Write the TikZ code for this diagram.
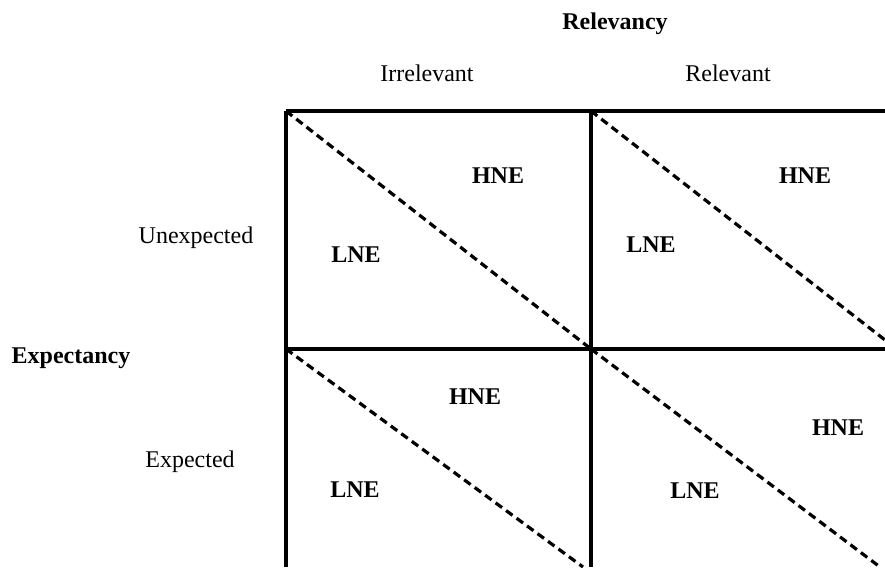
\documentclass[tikz,border=0pt]{standalone}
\usepackage{fontspec}
\setmainfont{Liberation Serif}

\begin{document}
\begin{tikzpicture}[
  x=1pt, y=-1pt,
  font=\fontsize{24}{28}\selectfont,
  axislabel/.style={anchor=base, inner sep=0pt},
  axistitle/.style={anchor=base, inner sep=0pt, font=\fontsize{24}{28}\selectfont\bfseries},
  zone/.style={anchor=base, inner sep=0pt, font=\fontsize{24}{28}\selectfont\bfseries},
  gridline/.style={line width=3.2pt},
  split/.style={line width=3.2pt, dash pattern=on 8pt off 5pt}
]
  \useasboundingbox (0,0) rectangle (885,567);

  % grid corners
  \coordinate (tl) at (286,111);
  \coordinate (tm) at (591,111);
  \coordinate (tr) at (885,111);
  \coordinate (ml) at (286,349);
  \coordinate (mm) at (591,349);
  \coordinate (mr) at (885,349);
  \coordinate (bl) at (286,567);
  \coordinate (bm) at (591,567);
  \coordinate (endtr) at (885,340);
  \coordinate (endbl) at (583,567);
  \coordinate (endbr) at (880,567);

  \draw[gridline] (tl) -- (tr);
  \draw[gridline] (ml) -- (mr);
  \draw[gridline] (tl) -- (bl);
  \draw[gridline] (tm) -- (bm);

  \draw[split] (tl) -- (mm);
  \draw[split] (tm) -- (endtr);
  \draw[split] (ml) -- (endbl);
  \draw[split] (mm) -- (endbr);

  % headings
  \node[axistitle] (relevancy) at (615,30) {Relevancy};
  \node[axislabel] (irrelevant) at (427,82) {Irrelevant};
  \node[axislabel] (relevant) at (728,82) {Relevant};
  \node[axistitle] (expectancy) at (71,363) {Expectancy};
  \node[axislabel] (unexpected) at (196,243) {Unexpected};
  \node[axislabel] (expected) at (190,467) {Expected};

  % cells
  \node[zone] (hne1) at (498,183) {HNE};
  \node[zone] (lne1) at (356,262) {LNE};
  \node[zone] (hne2) at (805,183) {HNE};
  \node[zone] (lne2) at (651,252) {LNE};
  \node[zone] (hne3) at (475,404) {HNE};
  \node[zone] (lne3) at (355,497) {LNE};
  \node[zone] (hne4) at (838,435) {HNE};
  \node[zone] (lne4) at (695,498) {LNE};
\end{tikzpicture}
\end{document}
